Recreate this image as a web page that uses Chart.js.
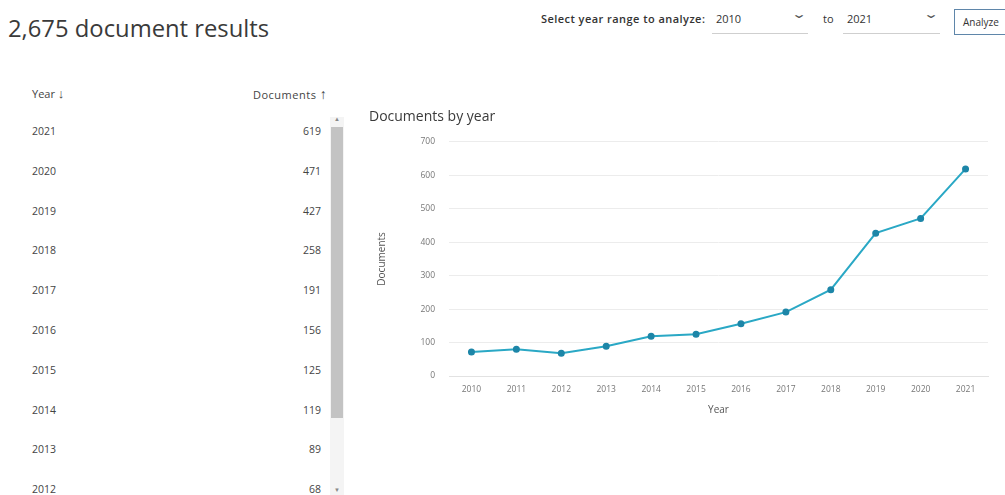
<!DOCTYPE html>
<html>
<head>
<meta charset="utf-8">
<script src="https://cdn.jsdelivr.net/npm/chart.js@4.4.1/dist/chart.umd.min.js"></script>
<style>
  html, body { margin: 0; padding: 0; background: #fff; }
  body { width: 1005px; height: 495px; position: relative; overflow: hidden; font-family: "Open Sans", sans-serif; color: #333; }
  .abs { position: absolute; white-space: nowrap; }
  #heading { left: 8px; top: 12px; font-size: 23.8px; color: #3a3a3a; }
  .ctl { font-size: 11px; color: #333; }
  .uline { position: absolute; height: 1px; background: #cfcfcf; }
  .chev { font-size: 12px; color: #555; transform: scaleX(1.6); }
  #btn { left: 954px; top: 9px; width: 70px; height: 26px; border: 1px solid #5f86aa; box-sizing: border-box; font-size: 10px; padding: 5px 0 0 8px; color: #333; }
  .th { font-size: 11px; color: #444; top: 84px; }
  .cellY { left: 32px; font-size: 10.5px; color: #444; }
  .cellV { width: 60px; left: 261px; text-align: right; font-size: 10.5px; color: #444; }
  #track { left: 330px; top: 117px; width: 14px; height: 378px; background: #f4f4f4; }
  #thumb { left: 331px; top: 127px; width: 12px; height: 291px; background: #c3c3c3; }
  .arrow { font-size: 6px; color: #888; }
  #chartBox { position: absolute; left: 362px; top: 100px; width: 638px; height: 330px; }
</style>
</head>
<body>
<div id="heading" class="abs">2,675 document results</div>
<div class="abs ctl" style="left:541px; top:11px; font-weight:600; letter-spacing:0.45px;">Select year range to analyze:</div>
<div class="abs ctl" id="fromYear" style="left:716px; top:11px;"></div>
<div class="abs chev" style="left:794px; top:5px;">&#8964;</div>
<div class="uline" style="left:712px; top:33px; width:96px;"></div>
<div class="abs ctl" style="left:823px; top:11px;">to</div>
<div class="abs ctl" id="toYear" style="left:847px; top:11px;"></div>
<div class="abs chev" style="left:926px; top:5px;">&#8964;</div>
<div class="uline" style="left:843px; top:33px; width:97px;"></div>
<div id="btn" class="abs">Analyze</div>

<div class="abs th" style="left:32px;">Year <span style="font-size:13px;">&#8595;</span></div>
<div class="abs th" style="left:253px; letter-spacing:0.5px;">Documents <span style="font-size:14px;">&#8593;</span></div>
<div id="rows"></div>
<div id="track" class="abs"></div>
<div id="thumb" class="abs"></div>
<div class="abs arrow" style="left:334px; top:115px;">&#9650;</div>
<div class="abs arrow" style="left:334px; top:486px;">&#9660;</div>

<div id="chartBox"><canvas id="c"></canvas></div>

<script>
// ---- data ----
const years = ['2010', '2011', '2012', '2013', '2014', '2015', '2016', '2017', '2018', '2019', '2020', '2021'];
const documents = [72, 80, 68, 89, 119, 125, 156, 191, 258, 427, 471, 619];
const yTicks = [0, 100, 200, 300, 400, 500, 600, 700];
const tableRowCount = 10;

// ---- header / table built from data ----
document.getElementById('fromYear').textContent = years[0];
document.getElementById('toYear').textContent = years[years.length - 1];
const rowsEl = document.getElementById('rows');
for (let i = 0; i < tableRowCount; i++) {
  const idx = years.length - 1 - i;
  const top = 124 + i * 39.8;
  const y = document.createElement('div');
  y.className = 'abs cellY'; y.style.top = top + 'px'; y.textContent = years[idx];
  const v = document.createElement('div');
  v.className = 'abs cellV'; v.style.top = top + 'px'; v.textContent = documents[idx];
  rowsEl.appendChild(y); rowsEl.appendChild(v);
}

// ---- chart ----
const tickFont = { family: 'Open Sans', size: 8.5 };
const padL = 7;
new Chart(document.getElementById('c'), {
  type: 'line',
  data: {
    labels: years,
    datasets: [{
      label: 'Documents',
      data: documents,
      borderColor: '#2aa8c5',
      backgroundColor: '#1d86a8',
      pointBackgroundColor: '#1d86a8',
      pointBorderColor: '#1d86a8',
      pointRadius: 2.5,
      borderWidth: 2,
      tension: 0,
      fill: false
    }]
  },
  options: {
    responsive: true,
    maintainAspectRatio: false,
    animation: false,
    layout: { padding: { left: padL, right: 12, top: 0, bottom: 14 } },
    plugins: {
      legend: { display: false },
      tooltip: { enabled: false },
      title: {
        display: true,
        text: 'Documents by year',
        align: 'start',
        color: '#3a3a3a',
        font: { family: 'Open Sans', size: 14, weight: 'normal' },
        padding: { top: 9, bottom: 16 }
      }
    },
    scales: {
      x: {
        offset: true,
        grid: { display: false },
        border: { display: true, color: '#e2e2e2', dash: [2, 2] },
        ticks: { color: '#777', font: tickFont, padding: 0, maxRotation: 0 },
        title: { display: true, text: 'Year', color: '#555', font: { family: 'Open Sans', size: 10 }, padding: { top: 2, bottom: 0 } },
        afterFit: (s) => { s.height = 40; }
      },
      y: {
        min: yTicks[0],
        max: yTicks[yTicks.length - 1],
        afterBuildTicks: (s) => { s.ticks = yTicks.map(v => ({ value: v })); },
        grid: { color: '#ececec', drawTicks: false },
        border: { display: false },
        ticks: { color: '#777', font: tickFont, padding: 14 },
        title: { display: true, text: 'Documents', color: '#555', font: { family: 'Open Sans', size: 10 }, padding: { top: 7, bottom: 0 } },
        afterFit: (s) => { s.width = 449 - 362 - padL; }
      }
    }
  }
});
</script>
</body>
</html>
